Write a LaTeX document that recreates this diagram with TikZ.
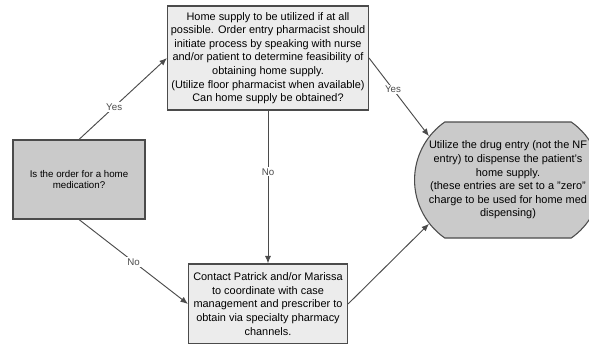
\documentclass[tikz,border=0pt]{standalone}
\usepackage{fontspec}
\setmainfont{Liberation Sans}
\usetikzlibrary{arrows.meta,positioning,shapes.misc}
\definecolor{darkline}{RGB}{75,75,75}
\definecolor{softgray}{RGB}{236,236,236}
\definecolor{midgray}{RGB}{202,202,202}
\tikzset{
  block/.style={rectangle, draw=darkline, line width=0.8pt, fill=softgray, align=center,
                font=\fontsize{8.2}{10.2}\selectfont, inner sep=2pt},
  blockdark/.style={block, fill=midgray, font=\fontsize{7.3}{8.8}\selectfont},
  terminal/.style={block, rounded rectangle, rounded rectangle arc length=110, fill=midgray},
  arrow/.style={-{Latex[length=2mm,width=1.6mm]}, darkline, line width=0.7pt},
  answer/.style={fill=white, font=\fontsize{7.3}{8}\selectfont, inner sep=1pt},
}
\begin{document}
\begin{tikzpicture}[x=0.75pt, y=-0.75pt]
\useasboundingbox (0,0) rectangle (589,343);
\node[blockdark, minimum width=99pt, minimum height=59.25pt] (order) at (79,179.5)
  {Is the order for a home\\medication?};
\node[block, minimum width=150.75pt, minimum height=78pt] (home) at (268,58)
  {Home supply to be utilized if at all\\possible. Order entry pharmacist should\\initiate process by speaking with nurse\\and/or patient to determine feasibility of\\obtaining home supply.\\(Utilize floor pharmacist when available)\\Can home supply be obtained?};
\node[block, minimum width=119.25pt, minimum height=60pt] (contact) at (268,304)
  {Contact Patrick and/or Marissa\\to coordinate with case\\management and prescriber to\\obtain via specialty pharmacy\\channels.};
\node[terminal, minimum width=132pt, minimum height=87pt] (dispense) at (508,180)
  {Utilize the drug entry (not the NF\\entry) to dispense the patient's\\home supply.\\(these entries are set to a "zero"\\charge to be used for home med\\dispensing)};

\draw[arrow] (order.north) -- node[answer, pos=0.4] {Yes} (home.west);
\draw[arrow] (order.south) -- node[answer] {No} (contact.west);
\draw[arrow] (home.south) -- node[answer, pos=0.4] {No} (contact.north);
\draw[arrow] (home.east) -- node[answer, pos=0.4] {Yes} (dispense.151);
\draw[arrow] (contact.east) -- (dispense.209);
\end{tikzpicture}
\end{document}
